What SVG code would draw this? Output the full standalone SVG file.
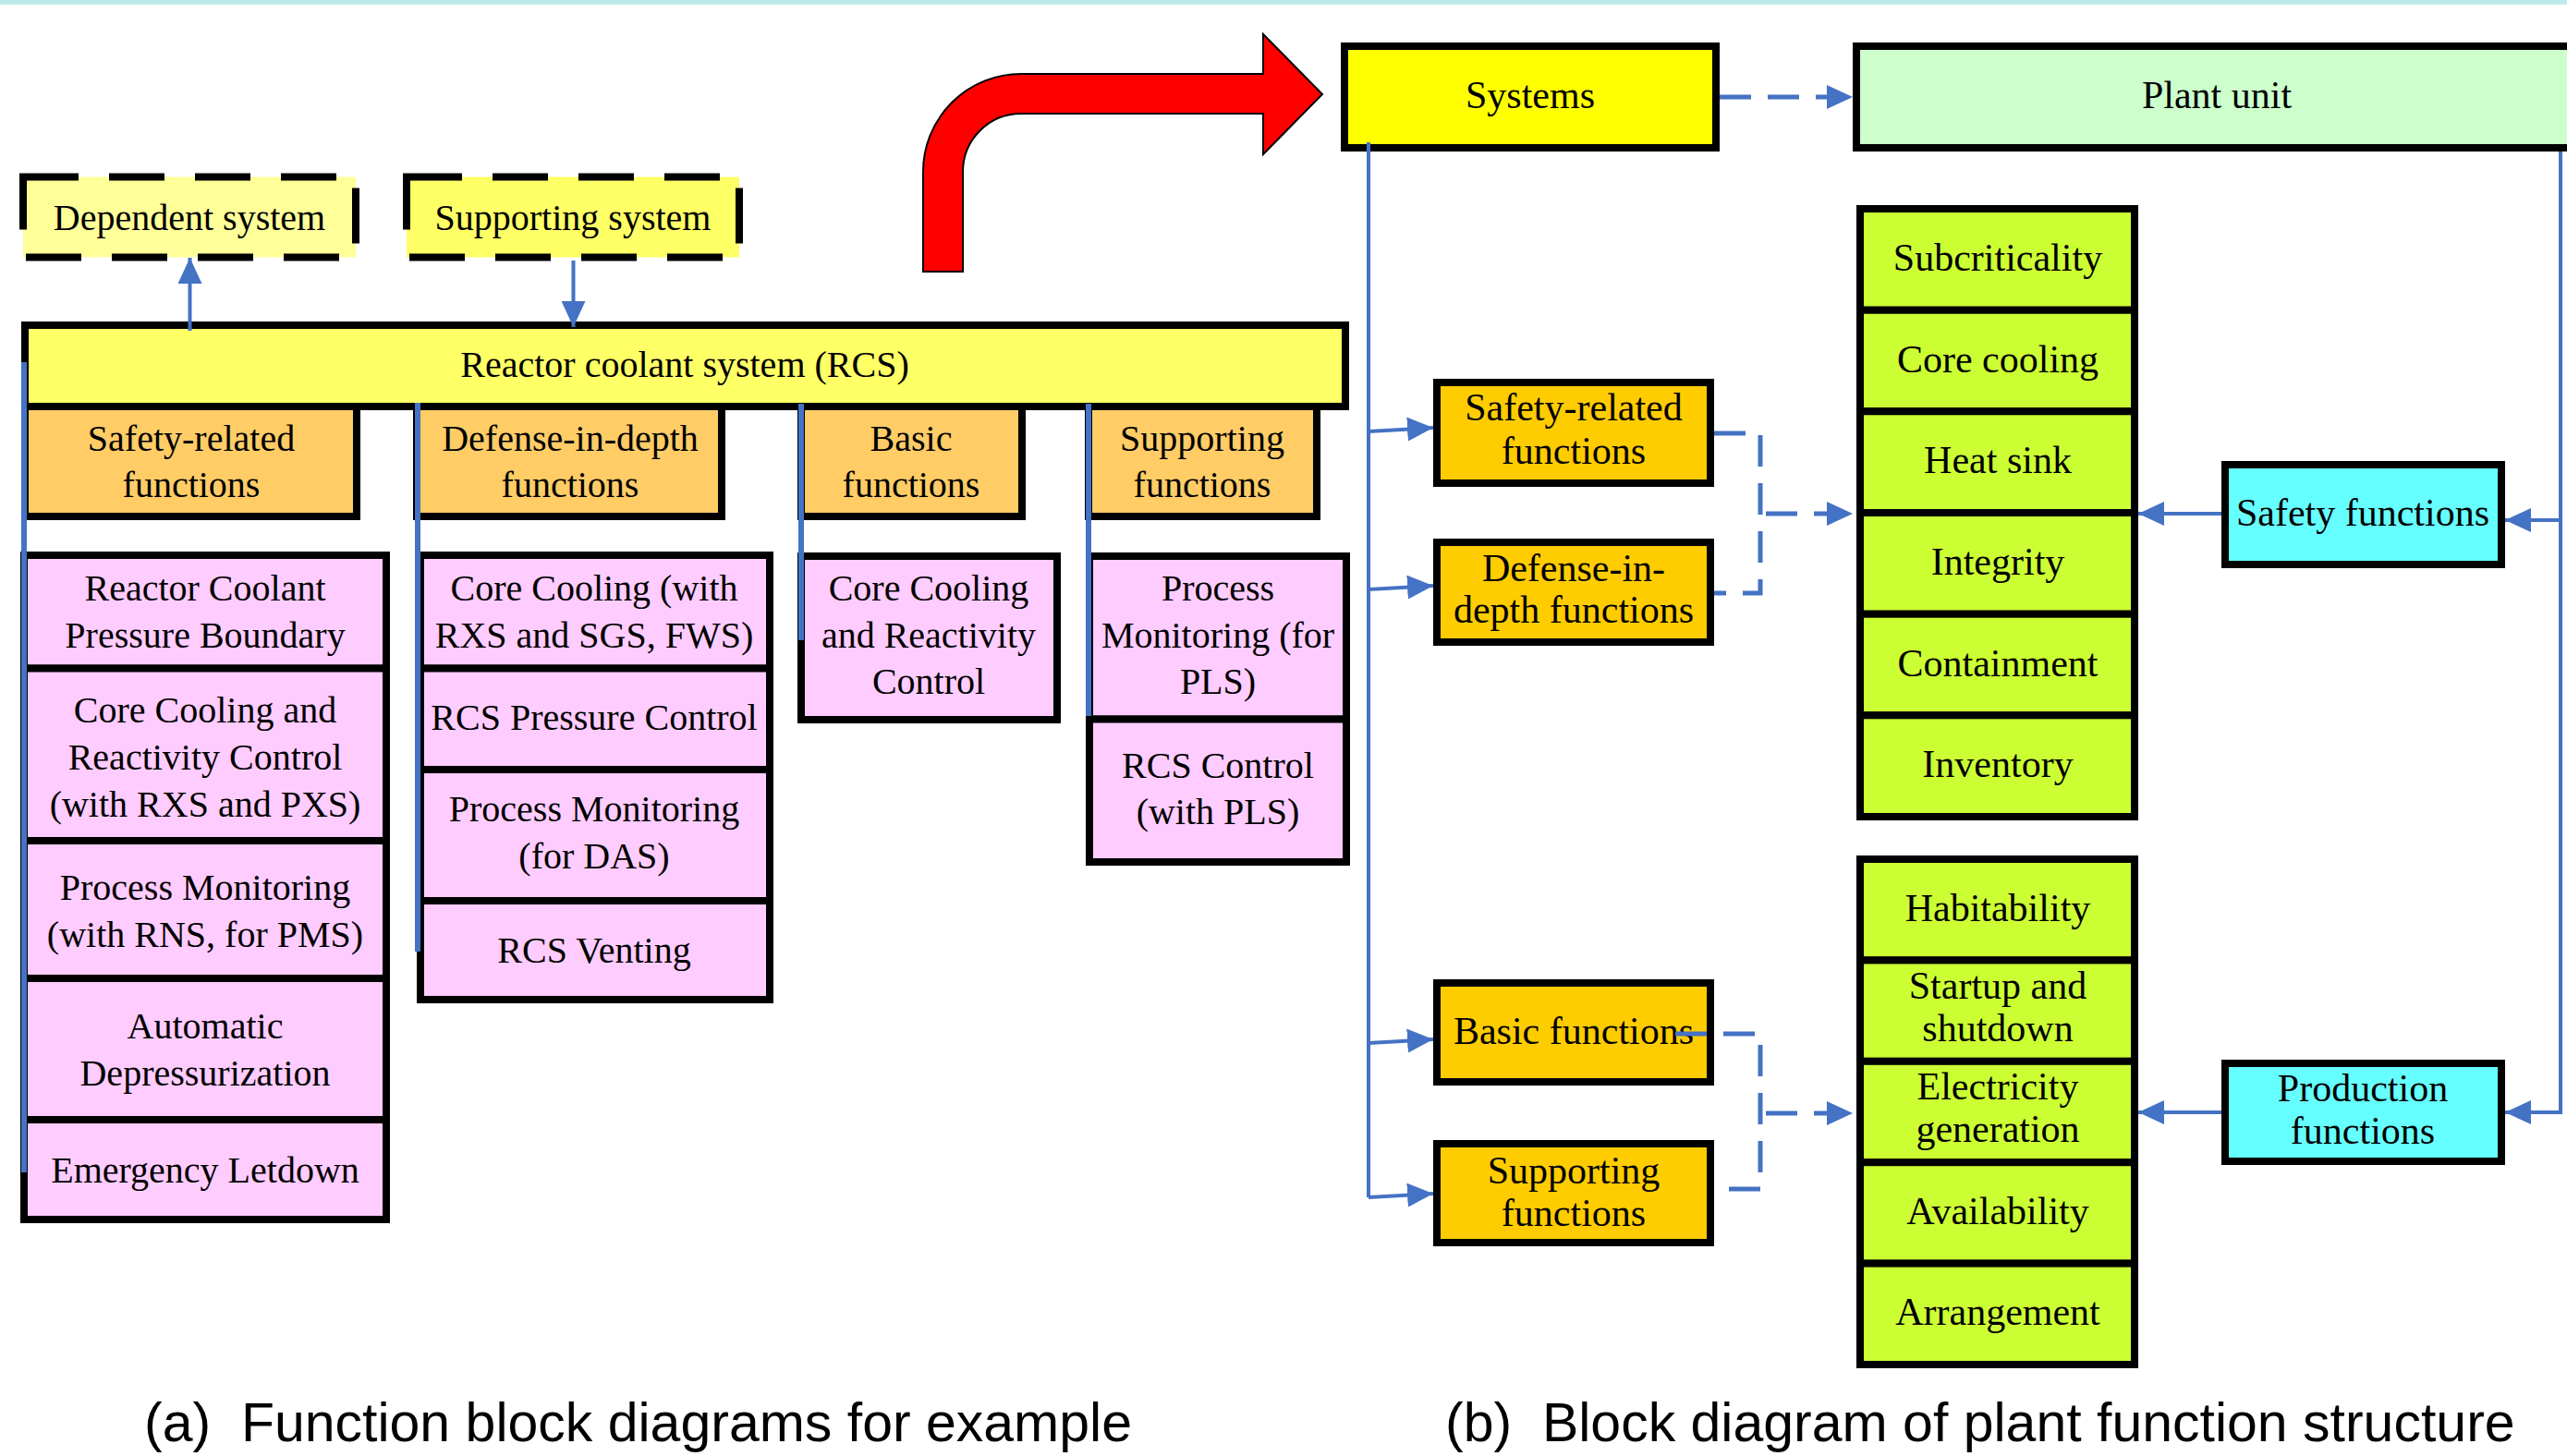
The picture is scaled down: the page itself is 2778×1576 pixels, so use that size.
<svg xmlns="http://www.w3.org/2000/svg" width="2778" height="1576" viewBox="0 0 2778 1576">
<style>
.t{font-family:"Liberation Serif","Times New Roman",serif;font-size:40px;fill:#000;text-anchor:middle}
.r{font-size:42px}
.cap{font-family:"Liberation Sans",Arial,sans-serif;font-size:59px;fill:#000;white-space:pre}
.bx{stroke:#000;stroke-width:8}
.pk{fill:#ffccff}
.or{fill:#ffcc66}
.o2{fill:#ffcc00}
.gr{fill:#ccff33}
.cy{fill:#66ffff}
.dash{fill:none;stroke:#000;stroke-width:8;stroke-dasharray:60 33}
.bl{fill:none;stroke:#4472c4;stroke-width:4}
.blt{fill:none;stroke:#4472c4;stroke-width:6}
.bd{fill:none;stroke:#4472c4;stroke-width:5;stroke-dasharray:34 18}
</style>
<defs>
<marker id="ah" markerUnits="userSpaceOnUse" markerWidth="28" markerHeight="26" refX="28" refY="13" orient="auto" viewBox="0 0 28 26">
<path d="M0,0 L28,13 L0,26 Z" fill="#4472c4"/>
</marker>
</defs>
<rect x="0" y="0" width="2778" height="5" fill="#c0eaea"/>

<!-- (a) left diagram -->
<g id="dependent-system">
<rect x="25" y="191.5" width="360" height="87" fill="#ffff99"/>
<rect x="25" y="191.5" width="360" height="87" class="dash"/>
<text class="t" x="205" y="249">Dependent system</text>
</g>
<g id="supporting-system">
<rect x="440" y="191.5" width="360" height="87" fill="#ffff66"/>
<rect x="440" y="191.5" width="360" height="87" class="dash"/>
<text class="t" x="620" y="249">Supporting system</text>
</g>
<g id="rcs">
<rect x="27" y="352" width="1429" height="88" fill="#ffff66" class="bx"/>
<text class="t" x="741" y="408">Reactor coolant system (RCS)</text>
</g>
<g id="a-safety-related">
<rect x="27" y="440" width="359" height="119" class="bx or"/>
<text class="t" x="207" y="488">Safety-related</text>
<text class="t" x="207" y="538">functions</text>
</g>
<g id="a-defense">
<rect x="451" y="440" width="330" height="119" class="bx or"/>
<text class="t" x="617" y="488">Defense-in-depth</text>
<text class="t" x="617" y="538">functions</text>
</g>
<g id="a-basic">
<rect x="867" y="440" width="239" height="119" class="bx or"/>
<text class="t" x="986" y="488">Basic</text>
<text class="t" x="986" y="538">functions</text>
</g>
<g id="a-supporting">
<rect x="1178" y="440" width="247" height="119" class="bx or"/>
<text class="t" x="1301" y="488">Supporting</text>
<text class="t" x="1301" y="538">functions</text>
</g>

<g id="c1-rcpb">
<rect x="26" y="601" width="392" height="122.5" class="bx pk"/>
<text class="t" x="222" y="650">Reactor Coolant</text>
<text class="t" x="222" y="701">Pressure Boundary</text>
</g>
<g id="c1-core">
<rect x="26" y="723.5" width="392" height="186.5" class="bx pk"/>
<text class="t" x="222" y="782">Core Cooling and</text>
<text class="t" x="222" y="833">Reactivity Control</text>
<text class="t" x="222" y="884">(with RXS and PXS)</text>
</g>
<g id="c1-pm">
<rect x="26" y="910" width="392" height="149" class="bx pk"/>
<text class="t" x="222" y="974">Process Monitoring</text>
<text class="t" x="222" y="1025">(with RNS, for PMS)</text>
</g>
<g id="c1-ad">
<rect x="26" y="1059" width="392" height="153" class="bx pk"/>
<text class="t" x="222" y="1124">Automatic</text>
<text class="t" x="222" y="1175">Depressurization</text>
</g>
<g id="c1-el">
<rect x="26" y="1212" width="392" height="108" class="bx pk"/>
<text class="t" x="222" y="1280">Emergency Letdown</text>
</g>

<g id="c2-core">
<rect x="455" y="601" width="378" height="122.5" class="bx pk"/>
<text class="t" x="643" y="650">Core Cooling (with</text>
<text class="t" x="643" y="701">RXS and SGS, FWS)</text>
</g>
<g id="c2-pc">
<rect x="455" y="723.5" width="378" height="109.5" class="bx pk"/>
<text class="t" x="643" y="790">RCS Pressure Control</text>
</g>
<g id="c2-pm">
<rect x="455" y="833" width="378" height="142" class="bx pk"/>
<text class="t" x="643" y="889">Process Monitoring</text>
<text class="t" x="643" y="940">(for DAS)</text>
</g>
<g id="c2-vent">
<rect x="455" y="975" width="378" height="107" class="bx pk"/>
<text class="t" x="643" y="1042">RCS Venting</text>
</g>

<g id="c3-core">
<rect x="867" y="602" width="277" height="177" class="bx pk"/>
<text class="t" x="1005" y="650">Core Cooling</text>
<text class="t" x="1005" y="701">and Reactivity</text>
<text class="t" x="1005" y="751">Control</text>
</g>

<g id="c4-pm">
<rect x="1179" y="602" width="278" height="176.5" class="bx pk"/>
<text class="t" x="1318" y="650">Process</text>
<text class="t" x="1318" y="701">Monitoring (for</text>
<text class="t" x="1318" y="751">PLS)</text>
</g>
<g id="c4-ctrl">
<rect x="1179" y="778.5" width="278" height="154.5" class="bx pk"/>
<text class="t" x="1318" y="842">RCS Control</text>
<text class="t" x="1318" y="892">(with PLS)</text>
</g>

<g id="red-arrow">
<path d="M999,294 L999,186 A106,106 0 0 1 1105,80 L1367,80 L1367,37 L1431,102 L1367,167 L1367,123 L1105,123 A63,63 0 0 0 1042,186 L1042,294 Z" fill="#ff0000" stroke="#000" stroke-width="2"/>
</g>

<!-- (b) right diagram -->
<g id="systems">
<rect x="1455" y="50" width="402" height="110" fill="#ffff00" class="bx"/>
<text class="t r" x="1656" y="117">Systems</text>
</g>
<g id="plant-unit">
<rect x="2009" y="50" width="800" height="110" fill="#ccffcc" class="bx"/>
<text class="t r" x="2399" y="117">Plant unit</text>
</g>
<g id="b-safety-related">
<rect x="1555" y="414" width="296" height="109" class="bx o2"/>
<text class="t r" x="1703" y="455">Safety-related</text>
<text class="t r" x="1703" y="502">functions</text>
</g>
<g id="b-defense">
<rect x="1555" y="587" width="296" height="108" class="bx o2"/>
<text class="t r" x="1703" y="629">Defense-in-</text>
<text class="t r" x="1703" y="674">depth functions</text>
</g>
<g id="b-basic">
<rect x="1555" y="1064" width="296" height="107" class="bx o2"/>
<text class="t r" x="1703" y="1130">Basic functions</text>
</g>
<g id="b-supporting">
<rect x="1555" y="1238" width="296" height="107" class="bx o2"/>
<text class="t r" x="1703" y="1281">Supporting</text>
<text class="t r" x="1703" y="1327">functions</text>
</g>

<g id="g-subcriticality"><rect x="2013" y="226" width="297" height="109.7" class="bx gr"/><text class="t r" x="2162" y="293">Subcriticality</text></g>
<g id="g-core-cooling"><rect x="2013" y="335.7" width="297" height="109.6" class="bx gr"/><text class="t r" x="2162" y="403">Core cooling</text></g>
<g id="g-heat-sink"><rect x="2013" y="445.3" width="297" height="109.7" class="bx gr"/><text class="t r" x="2162" y="512">Heat sink</text></g>
<g id="g-integrity"><rect x="2013" y="555" width="297" height="109.7" class="bx gr"/><text class="t r" x="2162" y="622">Integrity</text></g>
<g id="g-containment"><rect x="2013" y="664.7" width="297" height="109.6" class="bx gr"/><text class="t r" x="2162" y="732">Containment</text></g>
<g id="g-inventory"><rect x="2013" y="774.3" width="297" height="109.7" class="bx gr"/><text class="t r" x="2162" y="841">Inventory</text></g>

<g id="g-habitability"><rect x="2013" y="930" width="297" height="109.4" class="bx gr"/><text class="t r" x="2162" y="997">Habitability</text></g>
<g id="g-startup"><rect x="2013" y="1039.4" width="297" height="109.4" class="bx gr"/><text class="t r" x="2162" y="1081">Startup and</text><text class="t r" x="2162" y="1127">shutdown</text></g>
<g id="g-electricity"><rect x="2013" y="1148.8" width="297" height="109.4" class="bx gr"/><text class="t r" x="2162" y="1190">Electricity</text><text class="t r" x="2162" y="1236">generation</text></g>
<g id="g-availability"><rect x="2013" y="1258.2" width="297" height="109.4" class="bx gr"/><text class="t r" x="2162" y="1325">Availability</text></g>
<g id="g-arrangement"><rect x="2013" y="1367.6" width="297" height="109.4" class="bx gr"/><text class="t r" x="2162" y="1434">Arrangement</text></g>

<g id="safety-functions">
<rect x="2408" y="503" width="299" height="108" class="bx cy"/>
<text class="t r" x="2557" y="569">Safety functions</text>
</g>
<g id="production-functions">
<rect x="2408" y="1151" width="299" height="106" class="bx cy"/>
<text class="t r" x="2557" y="1192">Production</text>
<text class="t r" x="2557" y="1238">functions</text>
</g>

<g id="connectors">
<!-- left -->
<line x1="205.5" y1="358" x2="205.5" y2="279" class="bl" marker-end="url(#ah)"/>
<line x1="620.5" y1="282" x2="620.5" y2="354" class="bl" marker-end="url(#ah)"/>
<line x1="26" y1="392" x2="26" y2="1269" class="blt"/>
<line x1="452" y1="436" x2="452" y2="1030" class="blt"/>
<line x1="867" y1="437" x2="867" y2="693" class="blt"/>
<line x1="1178" y1="437" x2="1178" y2="775" class="blt"/>
<!-- right -->
<line x1="1861" y1="105" x2="2005" y2="105" class="bd" marker-end="url(#ah)"/>
<line x1="1481" y1="154" x2="1481" y2="1296" class="bl"/>
<line x1="1481" y1="467" x2="1551" y2="463" class="bl" marker-end="url(#ah)"/>
<line x1="1481" y1="638" x2="1551" y2="634" class="bl" marker-end="url(#ah)"/>
<line x1="1481" y1="1129" x2="1551" y2="1125" class="bl" marker-end="url(#ah)"/>
<line x1="1481" y1="1296" x2="1551" y2="1292" class="bl" marker-end="url(#ah)"/>
<path d="M1855,469 H1905 V642 H1855" class="bd"/>
<path d="M1911,556 H2005" class="bd" marker-end="url(#ah)"/>
<path d="M1813,1119 H1905 V1287 H1855" class="bd"/>
<path d="M1911,1205 H2005" class="bd" marker-end="url(#ah)"/>
<line x1="2404" y1="556" x2="2314" y2="556" class="bl" marker-end="url(#ah)"/>
<line x1="2404" y1="1204" x2="2314" y2="1204" class="bl" marker-end="url(#ah)"/>
<path d="M2771,164 V1204 H2711" class="bl" marker-end="url(#ah)"/>
<line x1="2771" y1="563" x2="2711" y2="563" class="bl" marker-end="url(#ah)"/>
</g>

<text class="cap" x="156" y="1560">(a)  Function block diagrams for example</text>
<text class="cap" x="1564" y="1560">(b)  Block diagram of plant function structure</text>
</svg>
